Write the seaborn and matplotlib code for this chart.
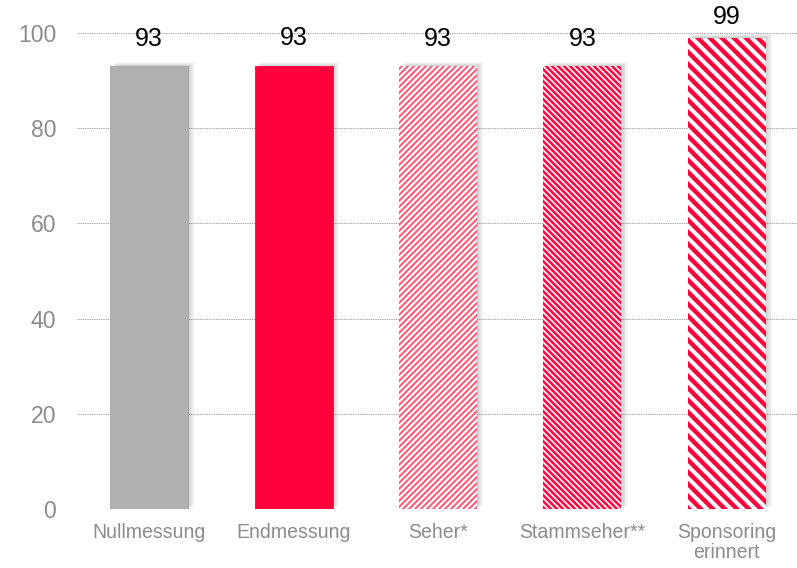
import matplotlib
matplotlib.use("Agg")
import pandas as pd
import seaborn as sns
from matplotlib import pyplot as plt
from matplotlib import patheffects as pe
from matplotlib.patches import Rectangle

categories = ['Nullmessung', 'Endmessung', 'Seher*', 'Stammseher**', 'Sponsoring\nerinnert']
values = [93, 93, 93, 93, 99]
yticks = [0, 20, 40, 60, 80, 100]

face_colors = ['#B0B0B0', '#FF003C', 'white', 'white', 'white']
hatch_colors = ['#A0A0A0', '#FF003C', '#FF5A78', '#FF0A44', '#FF003C']
hatches = [None, None, '////', '\\\\\\\\', '\\\\']
hatch_widths = [0, 0, 2.0, 2.6, 4.4]
label_offsets = [15, 16, 15, 15, 9]

sns.set_theme(style="white")
plt.rcParams['font.family'] = ['Liberation Sans', 'DejaVu Sans']

# dpi 72 so points equal pixels
fig = plt.figure(figsize=(797 / 72, 568 / 72), dpi=72)
ax = fig.add_axes([77 / 797, 59 / 568, 722 / 797, 476 / 568])

df = pd.DataFrame({'Kategorie': categories, 'Wert': values})
sns.barplot(ax=ax, data=df, x='Kategorie', y='Wert', hue='Kategorie',
            palette=face_colors, width=0.54, legend=False, saturation=1)

# soft shadow, several faint layers (on an unhatched copy so the hatch is not smeared)
shadow = [pe.SimplePatchShadow(offset=(k * 0.8, k * 0.5), shadow_rgbFace='#000000', alpha=0.022)
          for k in range(1, 9)] + [pe.Normal()]

for i, bar in enumerate(list(ax.patches)):
    bar.set_edgecolor(hatch_colors[i])
    under = Rectangle(bar.get_xy(), bar.get_width(), bar.get_height(),
                      facecolor='white', linewidth=0, zorder=bar.get_zorder() - 0.1)
    under.set_path_effects(shadow)
    ax.add_patch(under)
    if hatches[i]:
        bar.set_linewidth(0)
        bar.set_hatch(hatches[i])
        if hasattr(bar, 'set_hatch_linewidth'):
            bar.set_hatch_linewidth(hatch_widths[i])
        else:
            plt.rcParams['hatch.linewidth'] = hatch_widths[i]
    else:
        bar.set_linewidth(0.8)

for i, v in enumerate(values):
    ax.annotate(f'{v}', (i, v), xytext=(0, label_offsets[i]), textcoords='offset points',
                ha='center', va='bottom', fontsize=25, color='black',
                annotation_clip=False)

ax.set_ylim(0, 100)
ax.set_xlim(-0.5, len(categories) - 0.5)
ax.set_yticks(yticks)
ax.set_xlabel('')
ax.set_ylabel('')
ax.yaxis.grid(True, color='#8C8C8C', linestyle=(0, (1, 1)), linewidth=0.9)
ax.set_axisbelow(True)
sns.despine(ax=ax, left=True, bottom=True)
ax.tick_params(axis='y', length=0, pad=21, labelsize=23, labelcolor='#8C8C8C')
ax.tick_params(axis='x', length=0, pad=14, labelsize=19.5, labelcolor='#8C8C8C')
for lab in ax.get_xticklabels():
    lab.set_linespacing(1.1)

plt.savefig('out.png', dpi=72)
